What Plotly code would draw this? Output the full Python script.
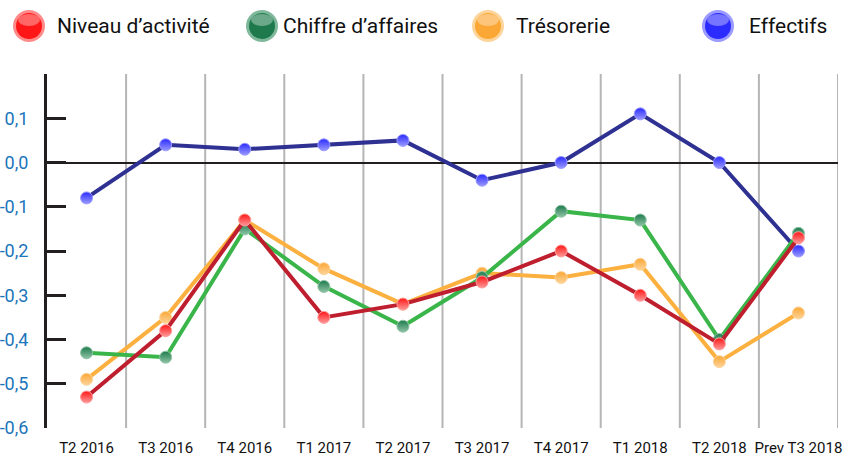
import plotly.graph_objects as go

categories = ["T2 2016", "T3 2016", "T4 2016", "T1 2017", "T2 2017",
              "T3 2017", "T4 2017", "T1 2018", "T2 2018", "Prev T3 2018"]
niveau = [-0.53, -0.38, -0.13, -0.35, -0.32, -0.27, -0.20, -0.30, -0.41, -0.17]
chiffre = [-0.43, -0.44, -0.15, -0.28, -0.37, -0.26, -0.11, -0.13, -0.40, -0.16]
tresorerie = [-0.49, -0.35, -0.13, -0.24, -0.32, -0.25, -0.26, -0.23, -0.45, -0.34]
effectifs = [-0.08, 0.04, 0.03, 0.04, 0.05, -0.04, 0.00, 0.11, 0.00, -0.20]
y_tickvals = [0.1, 0.0, -0.1, -0.2, -0.3, -0.4, -0.5, -0.6]
y_ticktext = ["0,1", "0,0", "-0,1", "-0,2", "-0,3", "-0,4", "-0,5", "-0,6"]

series = [
    # name, values, line color, marker color, highlight color
    ("Effectifs", effectifs, "#2e3192", "#2b2bff", "#9a9aff"),
    ("Trésorerie", tresorerie, "#fbb040", "#fba735", "#fdd49a"),
    ("Chiffre d’affaires", chiffre, "#39b54a", "#1e7a4c", "#8fc4a6"),
    ("Niveau d’activité", niveau, "#be1e2d", "#ff1616", "#ff9a9a"),
]

fig = go.Figure()
for name, vals, lc, mc, hc in series:
    fig.add_trace(go.Scatter(
        x=categories, y=vals, name=name, mode="lines+markers",
        line=dict(color=lc, width=4),
        marker=dict(size=12, color=mc,
                    gradient=dict(type="vertical", color=hc),
                    line=dict(color=hc, width=1)),
        showlegend=False,
    ))

shapes = []
for i in range(len(categories)):
    shapes.append(dict(type="line", xref="x", yref="y", x0=i + 0.5, x1=i + 0.5,
                       y0=-0.6, y1=0.2, line=dict(color="#b5b5b5", width=2),
                       layer="below"))

W, H = 849, 462
L, R, T, B = 47, 11, 74, 34
pw, ph = W - L - R, H - T - B

# legend drawn manually (large glossy circles); positions in page pixels
legend_items = [
    ("Niveau d’activité", 29, 55, "#ff1616", "#ff8a8a"),
    ("Chiffre d’affaires", 262, 281, "#1e7a4c", "#7fb89a"),
    ("Trésorerie", 488, 514, "#fba735", "#fdd49a"),
    ("Effectifs", 718, 747, "#2b2bff", "#9a9aff"),
]
annotations = []
for text, cx, tx, col, light in legend_items:
    xa = (cx - L) / pw
    ya = (H - B - 26) / ph
    shapes.append(dict(type="circle", xref="paper", yref="paper",
                       xsizemode="pixel", ysizemode="pixel", xanchor=xa, yanchor=ya,
                       x0=-16, x1=16, y0=-16, y1=16, fillcolor=light,
                       line=dict(width=0)))
    shapes.append(dict(type="circle", xref="paper", yref="paper",
                       xsizemode="pixel", ysizemode="pixel", xanchor=xa, yanchor=ya,
                       x0=-13, x1=13, y0=-13, y1=13, fillcolor=col,
                       line=dict(width=0)))
    shapes.append(dict(type="circle", xref="paper", yref="paper",
                       xsizemode="pixel", ysizemode="pixel", xanchor=xa, yanchor=ya,
                       x0=-11, x1=11, y0=0, y1=12, fillcolor="rgba(255,255,255,0.35)",
                       line=dict(width=0)))
    annotations.append(dict(text=text, xref="paper", yref="paper",
                            x=(tx - L) / pw, y=ya, xanchor="left", yanchor="middle",
                            showarrow=False,
                            font=dict(family="Roboto", size=21, color="#111111")))

fig.update_layout(
    width=W, height=H,
    margin=dict(l=L, r=R, t=T, b=B, autoexpand=False),
    paper_bgcolor="white", plot_bgcolor="white",
    shapes=shapes, annotations=annotations,
    xaxis=dict(type="category", range=[-0.5, 9.5], showgrid=False, showline=False,
               zeroline=False, ticks="", ticklabelstandoff=9, automargin=False,
               tickfont=dict(family="Roboto", size=15, color="#111111")),
    yaxis=dict(range=[-0.6, 0.2], tickvals=y_tickvals, ticktext=y_ticktext,
               showgrid=False, showline=True, linecolor="#231f20", linewidth=3,
               ticks="inside", ticklen=19, tickwidth=3, tickcolor="#231f20",
               zeroline=True, zerolinecolor="#231f20", zerolinewidth=2,
               ticklabelstandoff=12, automargin=False,
               tickfont=dict(family="Roboto", size=18, color="#1b75bb")),
)

fig.write_html("out.html",
               config={"displayModeBar": False},
               post_script="document.body.style.margin='0';"
                           "document.body.style.overflow='hidden';")
